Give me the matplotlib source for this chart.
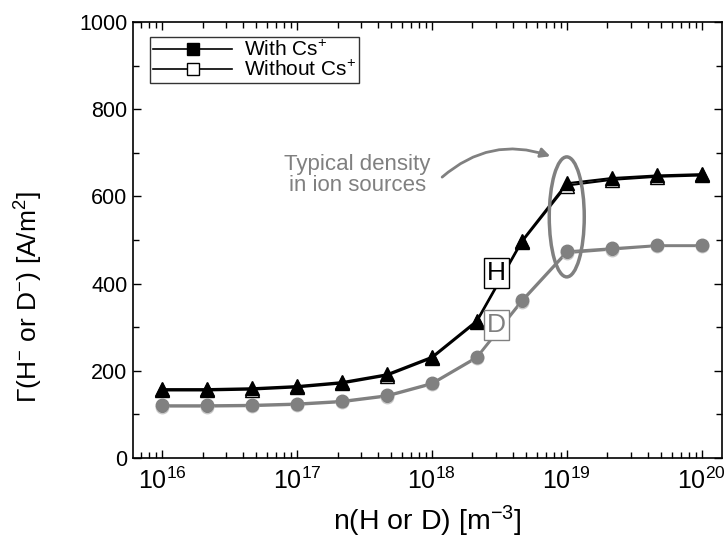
#!/usr/bin/env python
# H- / D- surface production flux vs atomic density, with and without Cs

import numpy as np
import matplotlib
matplotlib.use('Agg')
import matplotlib.pyplot as plt
from matplotlib.lines import Line2D
from matplotlib.patches import Ellipse
from matplotlib.transforms import ScaledTranslation

plt.rcParams['font.family'] = ['Liberation Sans', 'DejaVu Sans']
plt.rcParams['mathtext.fontset'] = 'custom'
plt.rcParams['mathtext.rm'] = 'Liberation Sans'
plt.rcParams['mathtext.it'] = 'Liberation Sans:italic'
plt.rcParams['mathtext.bf'] = 'Liberation Sans:bold'

# density points, 3 per decade
density = [1e16, 2.15e16, 4.64e16, 1e17, 2.15e17, 4.64e17, 1e18,
           2.15e18, 4.64e18, 1e19, 2.15e19, 4.64e19, 1e20]

# flux values [A/m^2]
H_with_cs = [158, 158, 160, 165, 174, 192, 232, 315, 498, 630, 642, 648, 651]
H_without_cs = [155, 155, 157, 162, 171, 189, 229, 312, 495, 625, 638, 645, 648]
D_with_cs = [121, 121, 122, 125, 131, 144, 172, 232, 362, 474, 481, 488, 488]
D_without_cs = [118, 118, 119, 122, 128, 141, 169, 229, 358, 470, 478, 486, 486]

gray = '#808080'

fig = plt.figure(figsize=(7.27, 5.43), dpi=100)
ax = fig.add_axes([0.183, 0.1565, 0.81, 0.803])

# H curves
ax.plot(density, H_without_cs, '-^', color='black', lw=1.5, ms=10,
        mfc='white', mec='black', mew=1.0, zorder=3)
ax.plot(density, H_with_cs, '-^', color='black', lw=1.5, ms=10,
        mfc='black', mec='black', zorder=4)

# D curves
ax.plot(density, D_without_cs, '-o', color=gray, lw=1.5, ms=9,
        mfc=gray, mec='#c8c8c8', mew=1.0, zorder=3)
ax.plot(density, D_with_cs, '-o', color=gray, lw=1.5, ms=9,
        mfc=gray, mec=gray, zorder=4)

ax.set_xscale('log')
ax.set_xlim(10**15.785, 10**20.15)
ax.set_ylim(0, 1000)
ax.set_yticks(np.arange(0, 1001, 200))
ax.set_yticks(np.arange(0, 1001, 100), minor=True)

ax.tick_params(which='both', direction='in', top=True, right=True, width=1.0)
ax.tick_params(which='major', length=6)
ax.tick_params(which='minor', length=4)
ax.tick_params(axis='y', labelsize=15.5, pad=4)
ax.tick_params(axis='x', labelsize=18, pad=7)
for s in ax.spines.values():
    s.set_linewidth(1.2)

ax.set_xlabel(r'n(H or D) [m$^{\mathregular{-3}}$]', fontsize=20.5, labelpad=7)
ax.set_ylabel(r'$\Gamma$(H$^{-}$ or D$^{-}$) [A/m$^{2}$]', fontsize=19)
ax.yaxis.set_label_coords(-0.15, 0.37)

# legend
handles = [Line2D([], [], color='black', lw=1.2, marker='s', ms=8,
                  mfc='black', mec='black'),
           Line2D([], [], color='black', lw=1.2, marker='s', ms=8,
                  mfc='white', mec='black')]
leg = ax.legend(handles, [r'With Cs$^{+}$', r'Without Cs$^{+}$'],
                loc='upper left', bbox_to_anchor=(0.029, 0.966),
                fontsize=15, frameon=True, fancybox=False, edgecolor='black',
                handlelength=3.8, handletextpad=0.55, borderpad=0.15,
                labelspacing=0.0, borderaxespad=0)
leg.get_frame().set_linewidth(1.0)

# H / D labels
ax.text(3.0e18, 424, 'H', fontsize=19, color='black', ha='center', va='center',
        bbox=dict(boxstyle='square,pad=0.12', fc='white', ec='black', lw=1.0),
        zorder=6)
ax.text(3.0e18, 305, 'D', fontsize=19, color=gray, ha='center', va='center',
        bbox=dict(boxstyle='square,pad=0.12', fc='white', ec=gray, lw=1.0),
        zorder=6)

# typical density annotation
ax.text(2.8e17, 650, 'Typical density\nin ion sources', fontsize=16,
        color=gray, ha='center', va='center', linespacing=1.0)
ax.annotate('', xy=(7.9e18, 690), xytext=(1.15e18, 640),
            arrowprops=dict(arrowstyle='-|>', color=gray, lw=2,
                            mutation_scale=14,
                            connectionstyle='arc3,rad=-0.3'))

trans = fig.dpi_scale_trans + ScaledTranslation(1e19, 553, ax.transData)
ell = Ellipse((0, 0), 0.35, 1.2, transform=trans, fill=False,
              ec=gray, lw=2.5, zorder=5)
ax.add_patch(ell)

fig.savefig('out.png', dpi=100)
